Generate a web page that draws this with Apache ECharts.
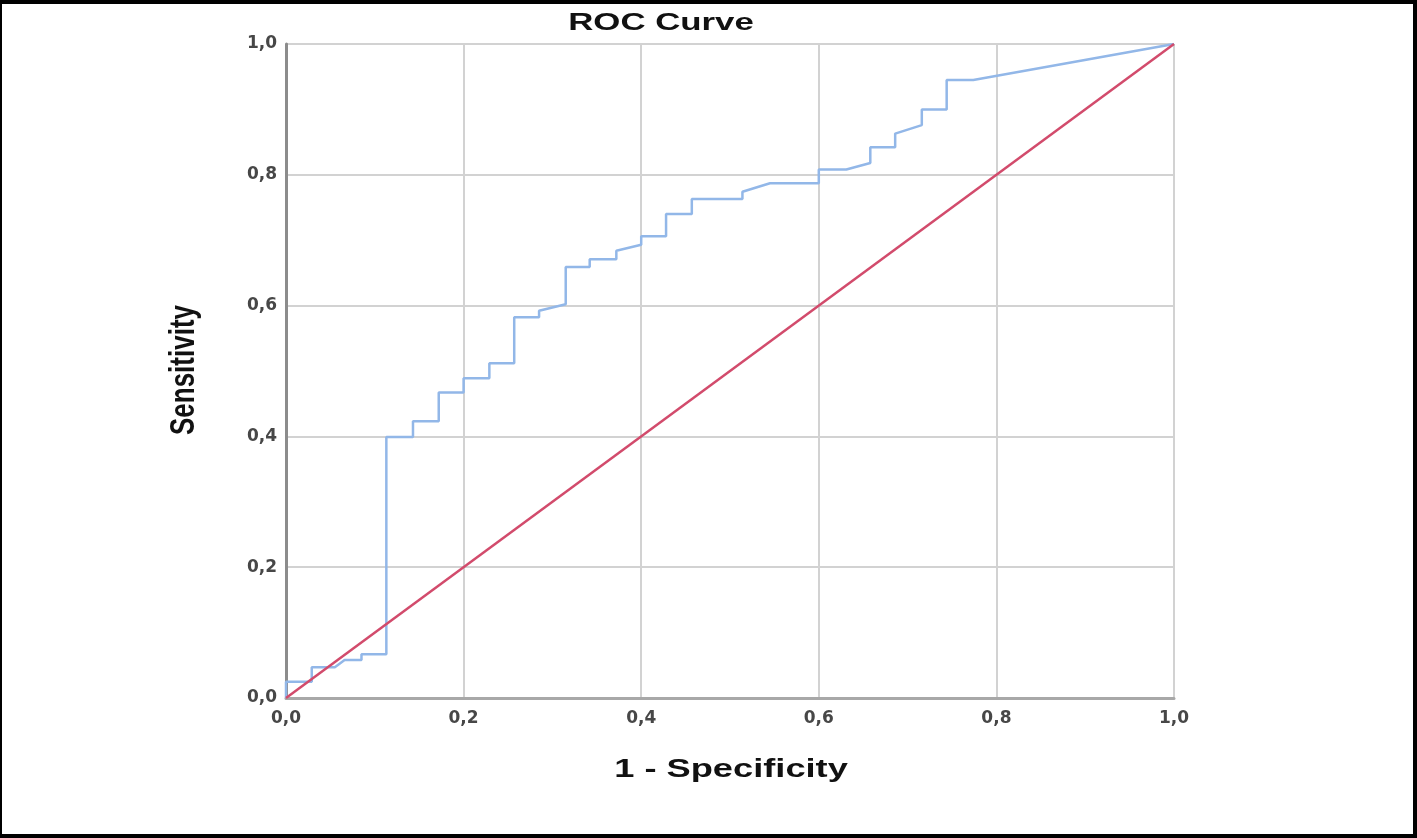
<!DOCTYPE html>
<html>
<head>
<meta charset="utf-8">
<script src="https://cdn.jsdelivr.net/npm/echarts@6/dist/echarts.min.js"></script>
<style>
html,body{margin:0;padding:0;background:#fff;}
#chart{width:1417px;height:838px;}
</style>
</head>
<body>
<div id="chart"></div>
<script>
// ROC curve corner points (1 - Specificity, Sensitivity)
const rocFpr = [0, 0, 0.029, 0.029, 0.055, 0.066, 0.085, 0.085, 0.113, 0.113, 0.143, 0.143, 0.172, 0.172, 0.200, 0.200, 0.229, 0.229, 0.257, 0.257, 0.285, 0.285, 0.315, 0.315, 0.342, 0.342, 0.372, 0.372, 0.400, 0.400, 0.428, 0.428, 0.457, 0.457, 0.514, 0.514, 0.545, 0.600, 0.600, 0.631, 0.658, 0.658, 0.686, 0.686, 0.716, 0.716, 0.744, 0.744, 0.774, 1.0];
const rocTpr = [0, 0.025, 0.025, 0.047, 0.047, 0.058, 0.058, 0.067, 0.067, 0.399, 0.399, 0.423, 0.423, 0.467, 0.467, 0.489, 0.489, 0.512, 0.512, 0.582, 0.582, 0.592, 0.602, 0.659, 0.659, 0.671, 0.671, 0.684, 0.693, 0.706, 0.706, 0.740, 0.740, 0.763, 0.763, 0.774, 0.787, 0.787, 0.808, 0.808, 0.818, 0.842, 0.842, 0.863, 0.876, 0.900, 0.900, 0.945, 0.945, 1.0];
// Reference (chance) line
const refX = [0, 1];
const refY = [0, 1];
// Axis ticks
const tickValues = [0, 0.2, 0.4, 0.6, 0.8, 1.0];
const titleText = 'ROC Curve';
const xAxisName = '1 - Specificity';
const yAxisName = 'Sensitivity';

const rocData = rocFpr.map((x, i) => [x, rocTpr[i]]);
const refData = refX.map((x, i) => [x, refY[i]]);
const fmt = v => {
  const hit = tickValues.find(t => Math.abs(t - v) < 1e-9);
  return hit === undefined ? '' : hit.toFixed(1).replace('.', ',');
};

const chart = echarts.init(document.getElementById('chart'), null, {renderer: 'canvas'});
const labelStyle = {
  fontFamily: 'DejaVu Sans',
  fontWeight: 'bold',
  fontSize: 17,
  color: '#474747'
};
chart.setOption({
  backgroundColor: '#ffffff',
  animation: false,
  grid: {left: 286, right: 243, top: 44, bottom: 140, containLabel: false},
  xAxis: {
    type: 'value', min: 0, max: 1, interval: 0.2,
    axisLine: {show: true, onZero: false, lineStyle: {color: '#a8a8a8', width: 3}},
    axisTick: {show: false},
    splitLine: {show: true, lineStyle: {color: '#d2d2d2', width: 2}},
    axisLabel: Object.assign({margin: 12, formatter: fmt}, labelStyle)
  },
  yAxis: {
    type: 'value', min: 0, max: 1, interval: 0.2,
    axisLine: {show: true, onZero: false, lineStyle: {color: '#8c8c8c', width: 3}},
    axisTick: {show: false},
    splitLine: {show: true, lineStyle: {color: '#d2d2d2', width: 2}},
    axisLabel: Object.assign({margin: 9, formatter: fmt}, labelStyle)
  },
  series: [
    {
      name: 'ROC',
      type: 'line',
      data: rocData,
      showSymbol: false,
      symbol: 'none',
      lineStyle: {color: '#92b7e8', width: 2.5},
      z: 3
    },
    {
      name: 'Reference',
      type: 'line',
      data: refData,
      showSymbol: false,
      symbol: 'none',
      lineStyle: {color: '#d24b6c', width: 2.5},
      z: 4
    }
  ],
  graphic: [
    {type: 'text', x: 661, y: 23, scaleX: 1.45, z: 10,
      style: {text: titleText, font: 'bold 24px "Liberation Sans", Arial', fill: '#111', align: 'center', verticalAlign: 'middle'}},
    {type: 'text', x: 731, y: 770, scaleX: 1.45, z: 10,
      style: {text: xAxisName, font: 'bold 25px "Liberation Sans", Arial', fill: '#111', align: 'center', verticalAlign: 'middle'}},
    {type: 'text', x: 184, y: 370, rotation: Math.PI / 2, scaleY: 1.35, z: 10,
      style: {text: yAxisName, font: 'bold 26px "Liberation Sans", Arial', fill: '#111', align: 'center', verticalAlign: 'middle'}},
    // image frame
    {type: 'rect', z: 20, shape: {x: 0, y: 0, width: 1417, height: 4}, style: {fill: '#000'}},
    {type: 'rect', z: 20, shape: {x: 0, y: 0, width: 2, height: 838}, style: {fill: '#000'}},
    {type: 'rect', z: 20, shape: {x: 1413, y: 0, width: 4, height: 838}, style: {fill: '#000'}},
    {type: 'rect', z: 20, shape: {x: 0, y: 834, width: 1417, height: 4}, style: {fill: '#000'}}
  ]
});
</script>
</body>
</html>
